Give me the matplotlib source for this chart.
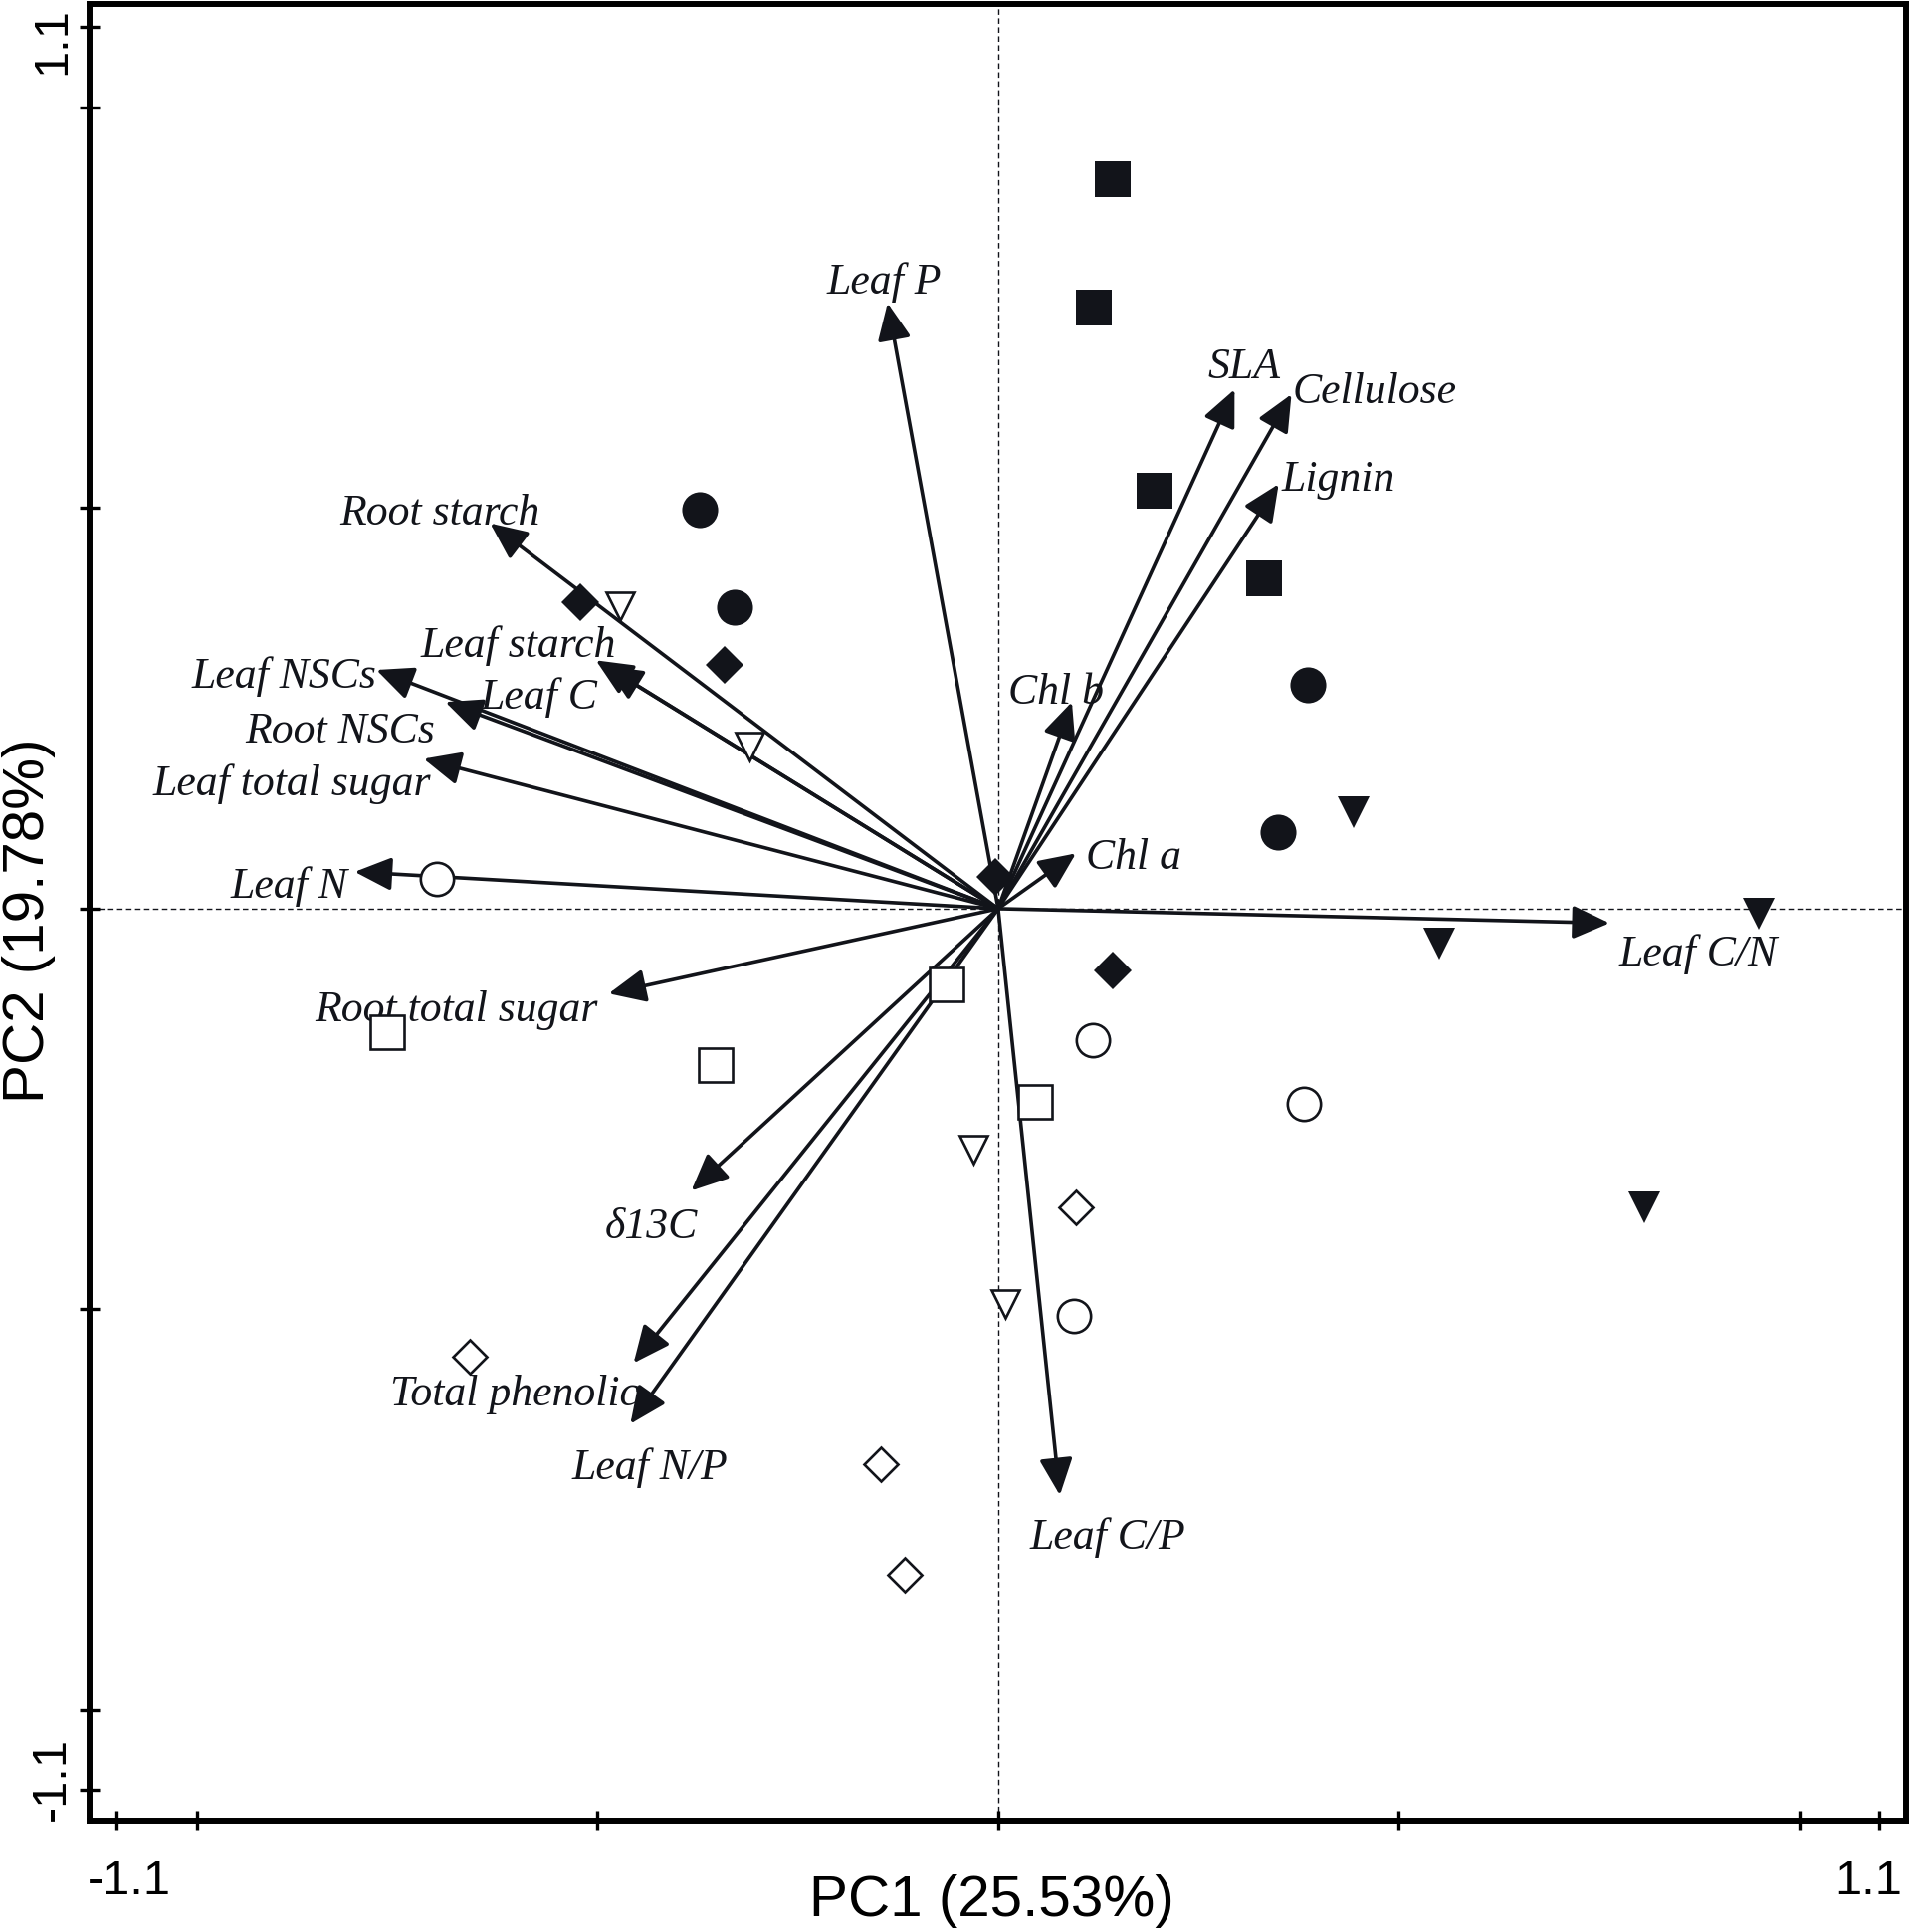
import matplotlib
matplotlib.use('Agg')
import matplotlib.pyplot as plt
from matplotlib.transforms import ScaledTranslation

ink = '#12141a'

# sample scores (PC1, PC2), four replicates per group
fsq_x = [0.143, 0.120, 0.195, 0.332]
fsq_y = [0.911, 0.750, 0.522, 0.412]
fci_x = [-0.372, -0.329, 0.387, 0.349]
fci_y = [0.498, 0.376, 0.280, 0.095]
ftr_x = [0.444, 0.949, 0.551, 0.806]
ftr_y = [0.120, -0.006, -0.043, -0.373]
fdi_x = [-0.521, -0.341, -0.003, 0.143]
fdi_y = [0.382, 0.304, 0.040, -0.077]
otr_x = [-0.472, -0.310, -0.031, 0.009]
otr_y = [0.378, 0.203, -0.301, -0.493]
oci_x = [-0.700, 0.118, 0.382, 0.095]
oci_y = [0.037, -0.164, -0.244, -0.508]
osq_x = [-0.763, -0.353, -0.065, 0.046]
osq_y = [-0.154, -0.195, -0.095, -0.241]
odi_x = [-0.659, 0.097, -0.147, -0.117]
odi_y = [-0.559, -0.373, -0.693, -0.831]

# trait loadings
traits = ['Leaf P', 'SLA', 'Cellulose', 'Lignin', 'Root starch', 'Leaf starch',
          'Leaf C', 'Leaf NSCs', 'Root NSCs', 'Leaf total sugar', 'Leaf N',
          'Chl b', 'Chl a', 'Leaf C/N', 'Root total sugar', 'δ13C',
          'Total phenolic', 'Leaf N/P', 'Leaf C/P']
load_x = [-0.138, 0.295, 0.366, 0.350, -0.634, -0.502, -0.490, -0.776, -0.690,
          -0.717, -0.803, 0.092, 0.097, 0.763, -0.486, -0.383, -0.455, -0.459, 0.077]
load_y = [0.756, 0.648, 0.642, 0.530, 0.481, 0.310, 0.303, 0.298, 0.258,
          0.187, 0.046, 0.258, 0.069, -0.018, -0.106, -0.352, -0.567, -0.643, -0.732]

# where each trait name sits (centre x, baseline y)
lab_x = [-0.143, 0.307, 0.470, 0.425, -0.697, -0.599, -0.573, -0.891, -0.822,
         -0.882, -0.885, 0.072, 0.169, 0.873, -0.676, -0.433, -0.604, -0.435, 0.137]
lab_y = [0.768, 0.662, 0.631, 0.522, 0.480, 0.314, 0.250, 0.276, 0.207,
         0.141, 0.013, 0.256, 0.050, -0.071, -0.140, -0.411, -0.620, -0.712, -0.799]

ticks = [-1.1, -1, -0.5, 0, 0.5, 1, 1.1]
tick_labels = ['-1.1', '', '', '', '', '', '1.1']

fig = plt.figure(figsize=(19.19, 19.41), dpi=100)
ax = fig.add_axes([0.0469, 0.0577, 0.951, 0.9402])

ax.axhline(0, color=ink, lw=1.0, ls=(0, (4, 2.5)), zorder=1)
ax.axvline(0, color=ink, lw=1.0, ls=(0, (4, 2.5)), zorder=1)

for i, name in enumerate(traits):
    ax.annotate('', xy=(load_x[i], load_y[i]), xytext=(0, 0),
                arrowprops=dict(arrowstyle='-|>,head_length=0.42,head_width=0.19',
                                mutation_scale=54, lw=2.6, color=ink,
                                shrinkA=0, shrinkB=0), zorder=3)
    ax.text(lab_x[i], lab_y[i], name, ha='center', va='baseline',
            fontsize=31.5, style='italic', family='Liberation Serif', color=ink, zorder=4)

ax.plot(fsq_x, fsq_y, 's', ms=26, mfc=ink, mec=ink, mew=0, ls='none', zorder=5)
ax.plot(fci_x, fci_y, 'o', ms=26, mfc=ink, mec=ink, mew=0, ls='none', zorder=5)
ax.plot(ftr_x, ftr_y, 'v', ms=23, mfc=ink, mec=ink, mew=0, ls='none', zorder=5)
ax.plot(fdi_x, fdi_y, 'D', ms=19.5, mfc=ink, mec=ink, mew=0, ls='none', zorder=5)
ax.plot(otr_x, otr_y, 'v', ms=20, mfc='white', mec=ink, mew=1.9, ls='none', zorder=5)
ax.plot(oci_x, oci_y, 'o', ms=24, mfc='white', mec=ink, mew=1.9, ls='none', zorder=5)
ax.plot(osq_x, osq_y, 's', ms=24, mfc='white', mec=ink, mew=1.9, ls='none', zorder=5)
ax.plot(odi_x, odi_y, 'D', ms=17.5, mfc='white', mec=ink, mew=1.9, ls='none', zorder=5)

ax.set_xlim(-1.134, 1.133)
ax.set_ylim(-1.138, 1.129)

ax.set_xticks(ticks)
ax.set_xticklabels(tick_labels)
ax.set_yticks(ticks)
ax.set_yticklabels(tick_labels, rotation=90, va='center')
ax.tick_params(direction='inout', length=13.7, width=2.4, color='black')
ax.tick_params(axis='x', pad=21)
ax.tick_params(axis='y', pad=4)
for t in ax.get_xticklabels() + ax.get_yticklabels():
    t.set_family('Liberation Sans')
    t.set_fontsize(35)

for sp in ax.spines.values():
    sp.set_linewidth(4.3)
    sp.set_color('black')

# tick labels at the ends sit slightly inside their ticks
shifts_x = {'-1.1': (0.13, 0), '1.1': (-0.11, 0)}
shifts_y = {'-1.1': (0, 0.11), '1.1': (0, -0.14)}
for t in ax.get_xticklabels():
    if t.get_text() in shifts_x:
        dx, dy = shifts_x[t.get_text()]
        t.set_transform(t.get_transform() + ScaledTranslation(dx, dy, fig.dpi_scale_trans))
for t in ax.get_yticklabels():
    if t.get_text() in shifts_y:
        dx, dy = shifts_y[t.get_text()]
        t.set_transform(t.get_transform() + ScaledTranslation(dx, dy, fig.dpi_scale_trans))

ax.set_xlabel('PC1 (25.53%)', fontsize=42, family='Liberation Sans')
ax.set_ylabel('PC2 (19.78%)', fontsize=42, family='Liberation Sans')
ax.xaxis.set_label_coords(0.4964, -0.0296)
ax.yaxis.set_label_coords(-0.0186, 0.4953)

fig.savefig('out.png', dpi=100)
